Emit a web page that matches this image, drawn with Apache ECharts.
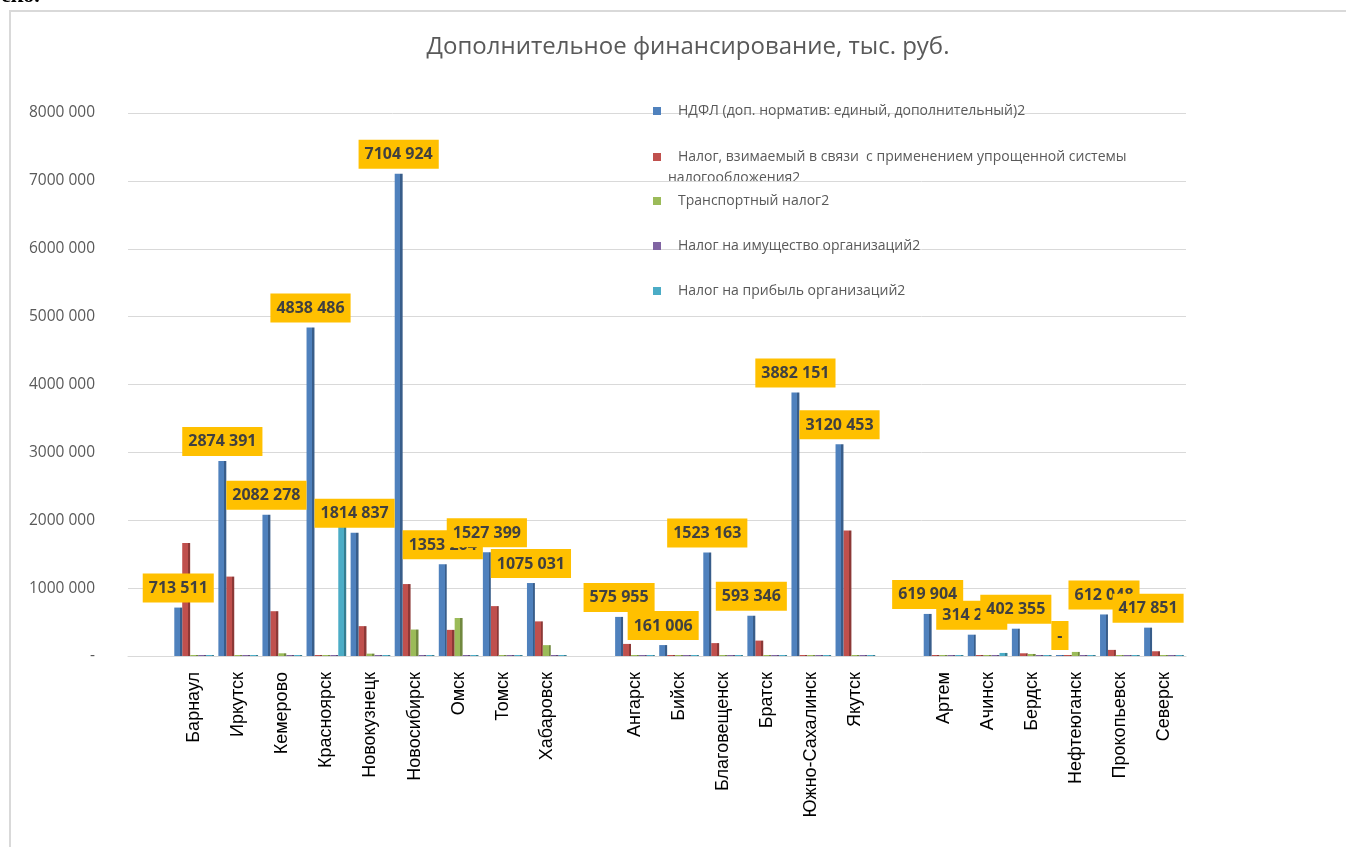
<!DOCTYPE html>
<html>
<head>
<meta charset="utf-8">
<script src="https://cdn.jsdelivr.net/npm/echarts@6/dist/echarts.min.js"></script>
<style>
  html, body { margin: 0; padding: 0; background: #fff; }
  #chart { width: 1346px; height: 847px; }
</style>
</head>
<body>
<div id="chart"></div>
<script>
// categories (empty ones are the gaps between groups)
const cities = ['', 'Барнаул', 'Иркутск', 'Кемерово', 'Красноярск', 'Новокузнецк', 'Новосибирск', 'Омск', 'Томск', 'Хабаровск',
  '', 'Ангарск', 'Бийск', 'Благовещенск', 'Братск', 'Южно-Сахалинск', 'Якутск',
  '', 'Артем', 'Ачинск', 'Бердск', 'Нефтеюганск', 'Прокопьевск', 'Северск'];

const seriesNames = [
  'НДФЛ (доп. норматив: единый, дополнительный)2',
  'Налог, взимаемый в связи  с применением упрощенной системы налогообложения2',
  'Транспортный налог2',
  'Налог на имущество организаций2',
  'Налог на прибыль организаций2'
];

const ndfl      = [null, 713511, 2874391, 2082278, 4838486, 1814837, 7104924, 1353264, 1527399, 1075031, null, 575955, 161006, 1523163, 593346, 3882151, 3120453, null, 619904, 314215, 402355, 0, 612048, 417851];
const usn       = [null, 1665000, 1170000, 660000, 8000, 440000, 1060000, 385000, 735000, 510000, null, 178000, 12000, 190000, 227000, 6000, 1850000, null, 8000, 7000, 40000, 10000, 90000, 70000];
const transport = [null, 5000, 5000, 40000, 4000, 35000, 390000, 560000, 6000, 160000, null, 4000, 3000, 4000, 3000, 2000, 3000, null, 4000, 5000, 30000, 60000, 12000, 8000];
const property  = [null, 3000, 3000, 3000, 3000, 3000, 3000, 3000, 3000, 3000, null, 3000, 3000, 3000, 3000, 3000, 3000, null, 3000, 3000, 3000, 3000, 3000, 3000];
const profit    = [null, 4000, 3000, 3000, 1950000, 3000, 4000, 3000, 3000, 3000, null, 3000, 3000, 3000, 3000, 3000, 3000, null, 3000, 45000, 3000, 3000, 3000, 3000];

const colors = ['#4F81BD', '#C0504D', '#9BBB59', '#8064A2', '#4BACC6'];
const shades = ['#385D8A', '#8C3836', '#71893F', '#5C4776', '#357D91'];
const legendTops = [102, 148, 192, 237, 282];

function fmt(v) {
  if (v === 0) return '-';
  const rest = String(v % 1000).padStart(3, '0');
  return Math.floor(v / 1000) + ' ' + rest;
}

function barColor(i) {
  return {
    type: 'linear', x: 0, y: 0, x2: 1, y2: 0,
    colorStops: [
      {offset: 0, color: colors[i]},
      {offset: 0.72, color: colors[i]},
      {offset: 0.72, color: shades[i]},
      {offset: 1, color: shades[i]}
    ]
  };
}

const allData = [ndfl, usn, transport, property, profit];

var myChart = echarts.init(document.getElementById('chart'));

var option = {
  animation: false,
  title: {
    text: 'Дополнительное финансирование, тыс. руб.',
    left: 683,
    textAlign: 'center',
    top: 30,
    textStyle: {fontFamily: 'Open Sans', fontSize: 24, fontWeight: 'normal', color: '#595959'}
  },
  legend: seriesNames.map(function (n, i) {
    return {
      data: [{name: n, itemStyle: {color: colors[i]}}],
      orient: 'vertical',
      left: 653,
      top: legendTops[i],
      padding: 0,
      icon: 'rect',
      itemWidth: 8,
      itemHeight: 8,
      formatter: i === 1 ? function () { return 'Налог, взимаемый в связи  с применением упрощенной системы'; } : '{name}',
      textStyle: {fontFamily: 'Open Sans', fontSize: 14, color: '#595959', lineHeight: 18, padding: [0, 0, 0, 12]}
    };
  }),
  graphic: [
    {type: 'rect', shape: {x: 10, y: 11, width: 1400, height: 900}, style: {fill: 'none', stroke: '#D9D9D9', lineWidth: 2}, silent: true},
    {type: 'text', left: 1, top: -15, style: {text: 'ско.', font: 'bold 22px "Liberation Serif"', fill: '#000'}},
    {type: 'text', left: 668, top: 171, style: {text: 'налогообложения2', font: '14px "Open Sans"', fill: '#595959'}}
  ],
  grid: {left: 128, right: 160, top: 113, bottom: 191},
  xAxis: {
    type: 'category',
    data: cities,
    axisLine: {show: true, lineStyle: {color: '#D9D9D9', width: 1}},
    axisTick: {show: false},
    axisLabel: {
      interval: 0,
      rotate: 90,
      margin: 16,
      fontFamily: 'Liberation Sans',
      fontSize: 18,
      color: '#000'
    }
  },
  yAxis: {
    type: 'value',
    min: 0,
    max: 8000000,
    interval: 1000000,
    axisLine: {show: false},
    axisTick: {show: false},
    splitLine: {lineStyle: {color: '#D9D9D9', width: 1}},
    axisLabel: {
      margin: 33,
      fontFamily: 'Open Sans',
      fontSize: 15.5,
      color: '#595959',
      formatter: fmt
    }
  },
  series: seriesNames.map(function (n, i) {
    const s = {
      name: n,
      type: 'bar',
      data: allData[i],
      barGap: '0%',
      barCategoryGap: '10%',
      barMinHeight: 1,
      itemStyle: {color: barColor(i)}
    };
    if (i === 0) {
      s.z = 5;
      s.label = {
        show: true,
        position: 'top',
        distance: 5,
        formatter: function (p) { return fmt(p.value); },
        backgroundColor: '#FFC000',
        padding: [7, 6, 6, 6],
        fontFamily: 'Open Sans',
        fontSize: 16,
        fontWeight: 'bold',
        color: '#404040'
      };
    }
    return s;
  })
};

myChart.setOption(option);
</script>
</body>
</html>
